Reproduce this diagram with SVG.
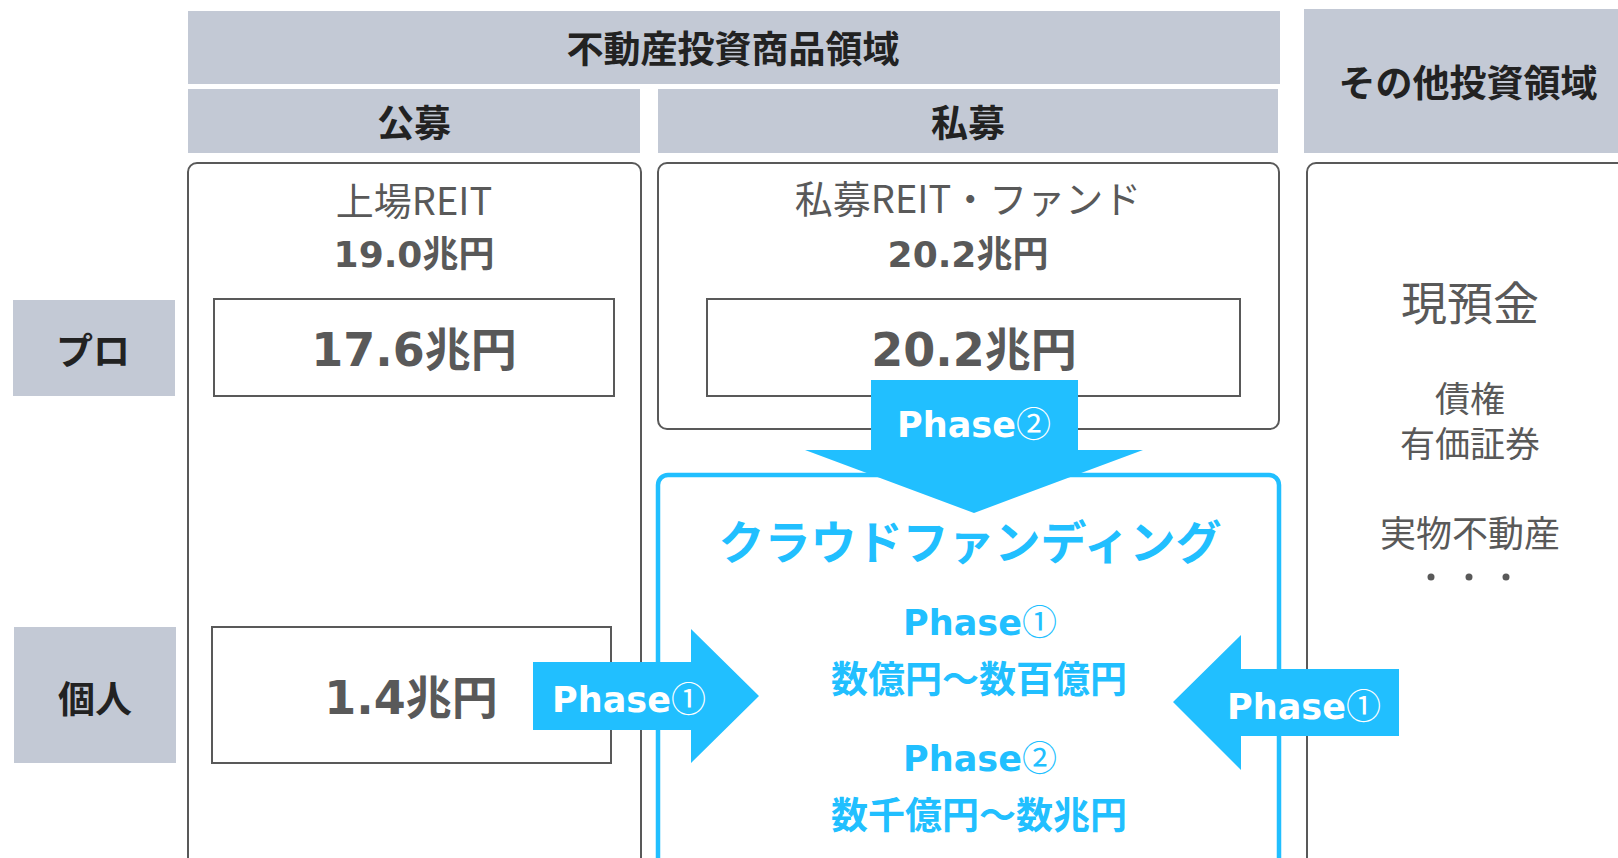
<svg xmlns="http://www.w3.org/2000/svg" width="1618" height="858" viewBox="0 0 1618 858">
<style>
.hdr{fill:#C3C9D5}
.ht{font-family:"Noto Sans CJK JP",sans-serif;font-weight:700;font-size:37px;fill:#222;text-anchor:middle}
.box{fill:#fff;stroke:#595959;stroke-width:2}
.rt{font-family:"Noto Sans CJK JP",sans-serif;fill:#595959;text-anchor:middle}
.num{font-family:"DejaVu Sans","Noto Sans CJK JP",sans-serif;font-weight:700;fill:#595959;text-anchor:middle}
.cy{fill:#21BFFF}
.cyt{font-family:"DejaVu Sans","Noto Sans CJK JP",sans-serif;font-weight:700;fill:#21BFFF;text-anchor:middle}
.wt{font-family:"DejaVu Sans","Noto Sans CJK JP",sans-serif;font-weight:700;font-size:35px;fill:#fff;text-anchor:middle}
.circ{font-family:"Noto Sans CJK JP",sans-serif;font-weight:400}
</style>
<rect width="1618" height="858" fill="#fff"/>
<g id="header-realestate">
<rect class="hdr" x="188" y="11" width="1092" height="73"/>
<text class="ht" x="733" y="63">不動産投資商品領域</text>
</g>
<g id="header-public">
<rect class="hdr" x="188" y="89" width="452" height="64"/>
<text class="ht" x="414" y="137">公募</text>
</g>
<g id="header-private">
<rect class="hdr" x="658" y="89" width="620" height="64"/>
<text class="ht" x="968" y="137">私募</text>
</g>
<g id="header-other">
<rect class="hdr" x="1304" y="9" width="330" height="144"/>
<text class="ht" x="1468" y="97">その他投資領域</text>
</g>
<g id="row-pro">
<rect class="hdr" x="13" y="300" width="162" height="96"/>
<text class="ht" x="93" y="365">プロ</text>
</g>
<g id="row-individual">
<rect class="hdr" x="14" y="627" width="162" height="136"/>
<text class="ht" x="95" y="713">個人</text>
</g>
<g id="public-box">
<rect class="box" x="188" y="163" width="453" height="740" rx="9"/>
<text class="rt" x="414" y="215" font-size="38">上場REIT</text>
<text class="num" x="414" y="267" font-size="36">19.0兆円</text>
</g>
<g id="public-pro">
<rect class="box" x="214" y="299" width="400" height="97"/>
<text class="num" x="414" y="366" font-size="46">17.6兆円</text>
</g>
<g id="public-individual">
<rect class="box" x="212" y="627" width="399" height="136"/>
<text class="num" x="411" y="714" font-size="46">1.4兆円</text>
</g>
<g id="private-box">
<rect class="box" x="658" y="163" width="621" height="266" rx="9"/>
<text class="rt" x="968" y="213" font-size="38">私募REIT・ファンド</text>
<text class="num" x="968" y="267" font-size="36">20.2兆円</text>
</g>
<g id="private-pro">
<rect class="box" x="707" y="299" width="533" height="97"/>
<text class="num" x="974" y="366" font-size="46">20.2兆円</text>
</g>
<g id="other-box">
<rect class="box" x="1307" y="163" width="340" height="740" rx="9"/>
<text class="rt" x="1470" y="320" font-size="46">現預金</text>
<text class="rt" x="1470" y="412" font-size="35">債権</text>
<text class="rt" x="1470" y="457" font-size="35">有価証券</text>
<text class="rt" x="1470" y="547" font-size="36">実物不動産</text>
<circle cx="1431" cy="577" r="3.5" fill="#595959"/>
<circle cx="1469" cy="577" r="3.5" fill="#595959"/>
<circle cx="1506" cy="577" r="3.5" fill="#595959"/>
</g>
<g id="crowdfunding">
<rect x="658" y="475" width="621" height="440" rx="10" fill="#fff" stroke="#21BFFF" stroke-width="4.5"/>
<text class="cyt" x="970" y="559" font-size="46">クラウドファンディング</text>
<text class="cyt" x="980" y="635" font-size="35">Phase<tspan class="circ">①</tspan></text>
<text class="cyt" x="979" y="693" font-size="37">数億円～数百億円</text>
<text class="cyt" x="980" y="771" font-size="35">Phase<tspan class="circ">②</tspan></text>
<text class="cyt" x="979" y="829" font-size="37">数千億円～数兆円</text>
</g>
<g id="connectors">
<g id="arrow-phase2-down">
<polygon class="cy" points="871,380 1078,380 1078,450 1143,450 974,513 805,450 871,450"/>
<text class="wt" x="974" y="437">Phase<tspan class="circ">②</tspan></text>
</g>
<g id="arrow-phase1-right">
<polygon class="cy" points="533,662 691,662 691,629 759,696 691,763 691,730 533,730"/>
<text class="wt" x="629" y="712">Phase<tspan class="circ">①</tspan></text>
</g>
<g id="arrow-phase1-left">
<polygon class="cy" points="1399,669 1241,669 1241,635 1173,702 1241,770 1241,736 1399,736"/>
<text class="wt" x="1304" y="719">Phase<tspan class="circ">①</tspan></text>
</g>
</g>
</svg>
